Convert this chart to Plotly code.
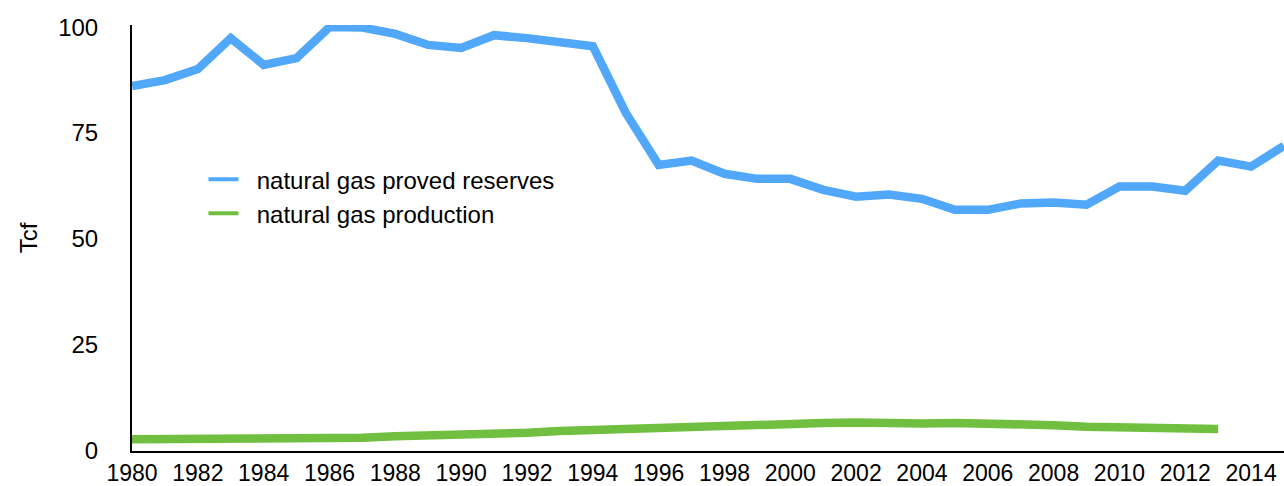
import plotly.graph_objects as go

years = list(range(1980, 2016))
reserves = [86.1, 87.5, 90.1, 97.4, 91.1, 92.7, 100.0, 99.9, 98.4, 95.8,
            95.1, 98.1, 97.4, 96.5, 95.5, 79.8, 67.5, 68.5, 65.4, 64.2,
            64.2, 61.6, 60.0, 60.5, 59.5, 56.9, 56.9, 58.4, 58.6, 58.1,
            62.4, 62.4, 61.4, 68.5, 67.1, 72.0]
prod_years = list(range(1980, 2014))
production = [2.8, 2.8, 2.8, 2.6, 2.9, 3.1, 2.9, 3.1, 3.5, 3.6,
              3.8, 4.0, 4.3, 4.7, 5.0, 5.3, 5.6, 5.7, 5.9, 6.2,
              6.4, 6.6, 6.7, 6.5, 6.5, 6.6, 6.6, 6.5, 6.1, 5.7,
              5.5, 5.3, 5.2, 5.2]
names = ["natural gas proved reserves", "natural gas production"]
colors = ["#51A7F9", "#70BF41"]
y_ticks = [0, 25, 50, 75, 100]
x_ticks = list(range(1980, 2015, 2))

FONT = "Liberation Sans, Arial, Helvetica, sans-serif"

fig = go.Figure()
fig.add_trace(go.Scatter(x=years, y=reserves, mode="lines", name=names[0],
                         line=dict(color=colors[0], width=8.5), showlegend=False,
                         hoverinfo="skip"))
fig.add_trace(go.Scatter(x=prod_years, y=production, mode="lines", name=names[1],
                         line=dict(color=colors[1], width=8.5), showlegend=False,
                         hoverinfo="skip"))
# legend entries with thinner key lines
for i in range(2):
    fig.add_trace(go.Scatter(x=[None], y=[None], mode="lines",
                             name="\u00a0\u00a0" + names[i],
                             legendgroup=f"g{i}",
                             line=dict(color=colors[i], width=4)))

fig.update_layout(
    width=1284, height=486,
    margin=dict(l=132, r=0, t=25, b=35),
    paper_bgcolor="white", plot_bgcolor="white",
    font=dict(family=FONT, size=24, color="black"),
    showlegend=True,
    legend=dict(x=0.062, y=0.69, xanchor="left", yanchor="top",
                bgcolor="rgba(0,0,0,0)", font=dict(size=24),
                itemwidth=30, tracegroupgap=0),
    xaxis=dict(range=[1980, 2015], tickvals=x_ticks, ticktext=[str(v) for v in x_ticks],
               showgrid=False, zeroline=False, showline=True, linecolor="black",
               linewidth=2, ticks="", ticklabelstandoff=0, automargin=False,
               tickfont=dict(size=23)),
    yaxis=dict(range=[0, 100.5], tickvals=y_ticks, showgrid=False, zeroline=False,
               showline=True, linecolor="black", linewidth=2, ticks="",
               ticklabelstandoff=27, automargin=False,
               title=dict(text="Tcf", standoff=14, font=dict(size=24))),
)

fig.write_html("out.html", config={"displayModeBar": False},
               post_script="document.body.style.margin='0';document.body.style.overflow='hidden';")
